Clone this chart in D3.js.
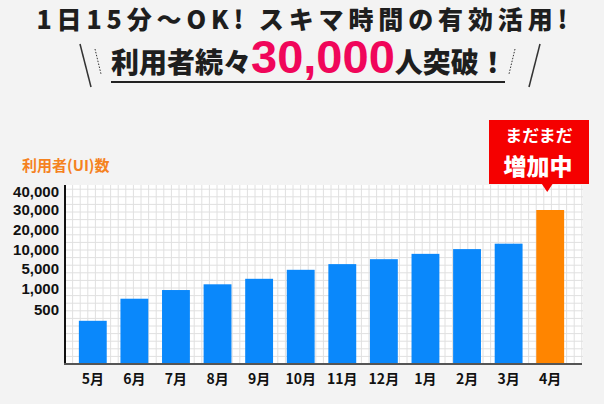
<!DOCTYPE html>
<html>
<head>
<meta charset="utf-8">
<script src="https://cdn.jsdelivr.net/npm/d3@7"></script>
<style>
    body { margin: 0; background: #f3f3f3; }
    svg { display: block; font-family: "Noto Sans CJK JP", "Noto Sans", sans-serif; }
</style>
</head>
<body>
<svg id="chart"></svg>
<script>
const months = ["5月", "6月", "7月", "8月", "9月", "10月", "11月", "12月", "1月", "2月", "3月", "4月"];
const users = [400, 760, 960, 1800, 2900, 4700, 6100, 7400, 8800, 10100, 12800, 30000];
const tickValues = [500, 1000, 5000, 10000, 20000, 30000, 40000];
const scaleStops = [0, 500, 1000, 5000, 10000, 20000, 30000, 40000];

const width = 604, height = 404;
const plot = { left: 65, right: 583, top: 185, bottom: 364 };

const svg = d3.select("#chart").attr("width", width).attr("height", height);

// headline
svg.append("text")
    .attr("x", 302).attr("y", 29)
    .attr("text-anchor", "middle")
    .attr("font-size", 25).attr("font-weight", 900).attr("fill", "#1e1e1e")
    .attr("textLength", 531).attr("lengthAdjust", "spacing")
    .text("1日15分〜OK! スキマ時間の有効活用!");

const line2 = svg.append("text")
    .attr("x", 111).attr("y", 73)
    .attr("font-weight", 900).attr("fill", "#1e1e1e");
line2.append("tspan").attr("font-size", 28).text("利用者続々");
line2.append("tspan").attr("font-size", 47).attr("font-weight", 700).attr("fill", "#f0065a")
    .attr("font-family", "'Liberation Sans', Arial, sans-serif").text("30,000");
line2.append("tspan").attr("font-size", 28).text("人突破！");

svg.append("line")
    .attr("x1", 111).attr("x2", 505).attr("y1", 82).attr("y2", 82)
    .attr("stroke", "#222").attr("stroke-width", 2);

// slashes either side of the headline
const deco = svg.append("g").attr("stroke", "#333");
deco.append("line").attr("x1", 80).attr("y1", 44).attr("x2", 91).attr("y2", 87).attr("stroke-width", 1.5);
deco.append("line").attr("x1", 95).attr("y1", 49).attr("x2", 101).attr("y2", 74)
    .attr("stroke-width", 1).attr("stroke-dasharray", "1.5,1.5");
deco.append("line").attr("x1", 515).attr("y1", 49).attr("x2", 509).attr("y2", 74)
    .attr("stroke-width", 1).attr("stroke-dasharray", "1.5,1.5");
deco.append("line").attr("x1", 540).attr("y1", 44).attr("x2", 529).attr("y2", 87).attr("stroke-width", 1.5);

// plot background with square grid
svg.append("rect")
    .attr("x", plot.left).attr("y", plot.top)
    .attr("width", plot.right - plot.left).attr("height", plot.bottom - plot.top)
    .attr("fill", "#fff");

const cell = 7.6;
const grid = svg.append("g").attr("stroke", "#e0e0e0").attr("stroke-width", 1);
grid.selectAll(".gv").data(d3.range(plot.left + cell, plot.right, cell))
    .enter().append("line")
    .attr("x1", d => d).attr("x2", d => d)
    .attr("y1", plot.top).attr("y2", plot.bottom);
grid.selectAll(".gh").data(d3.range(plot.bottom - cell, plot.top, -cell))
    .enter().append("line")
    .attr("y1", d => d).attr("y2", d => d)
    .attr("x1", plot.left).attr("x2", plot.right);

// scales
const x = d3.scaleBand()
    .domain(months)
    .range([72, 571])
    .paddingInner(0.33)
    .paddingOuter(0.165);

// uneven (piecewise) value axis as in the original
const y = d3.scaleLinear()
    .domain(scaleStops)
    .range([plot.bottom, 310, 288.3, 268.3, 249.3, 229.3, 210, 191.7]);

// bars
svg.selectAll(".bar")
    .data(users)
    .enter().append("rect")
    .attr("class", "bar")
    .attr("x", (d, i) => x(months[i]))
    .attr("y", d => y(d))
    .attr("width", x.bandwidth())
    .attr("height", d => plot.bottom - y(d))
    .attr("fill", (d, i) => i === months.length - 1 ? "#ff8500" : "#0a88fb");

// axes
const yAxis = svg.append("g")
    .attr("transform", `translate(${plot.left}, 0)`)
    .call(d3.axisLeft(y).tickValues(tickValues).tickSize(0).tickPadding(6).tickFormat(d3.format(",")));
yAxis.select(".domain").remove();
yAxis.selectAll("text")
    .attr("font-size", 15).attr("font-weight", 700).attr("fill", "#111")
    .attr("font-family", "'Liberation Sans', Arial, sans-serif");

svg.append("line")
    .attr("x1", plot.left).attr("x2", plot.left)
    .attr("y1", plot.top).attr("y2", plot.bottom + 1)
    .attr("stroke", "#111").attr("stroke-width", 2);

const xAxis = svg.append("g")
    .attr("transform", `translate(0, ${plot.bottom})`)
    .call(d3.axisBottom(x).tickSize(0).tickPadding(10));
xAxis.select(".domain").remove();
xAxis.selectAll("text")
    .attr("font-size", 14).attr("font-weight", 700).attr("fill", "#111")
    .attr("font-family", "'Noto Sans CJK JP', sans-serif");

svg.append("line")
    .attr("x1", plot.left - 1).attr("x2", 582)
    .attr("y1", plot.bottom).attr("y2", plot.bottom)
    .attr("stroke", "#555").attr("stroke-width", 2);

// axis title
svg.append("text")
    .attr("x", 22).attr("y", 171)
    .attr("font-size", 15).attr("font-weight", 700).attr("fill", "#f5821f")
    .text("利用者(UI)数");

// callout over the last bar
const last = months[months.length - 1];
const cx = x(last) + x.bandwidth() / 2 - 3;
const callout = svg.append("g");
callout.append("rect")
    .attr("x", 489).attr("y", 120).attr("width", 100).attr("height", 64)
    .attr("fill", "#f50000");
callout.append("path")
    .attr("d", `M${cx - 6},183 L${cx + 6},183 L${cx},192 Z`)
    .attr("fill", "#f50000");
callout.append("text")
    .attr("x", 539).attr("y", 142)
    .attr("text-anchor", "middle")
    .attr("font-size", 17).attr("font-weight", 700).attr("fill", "#fff")
    .text("まだまだ");
callout.append("text")
    .attr("x", 538).attr("y", 175)
    .attr("text-anchor", "middle")
    .attr("font-size", 23).attr("font-weight", 900).attr("fill", "#fff")
    .text("増加中");
</script>
</body>
</html>
